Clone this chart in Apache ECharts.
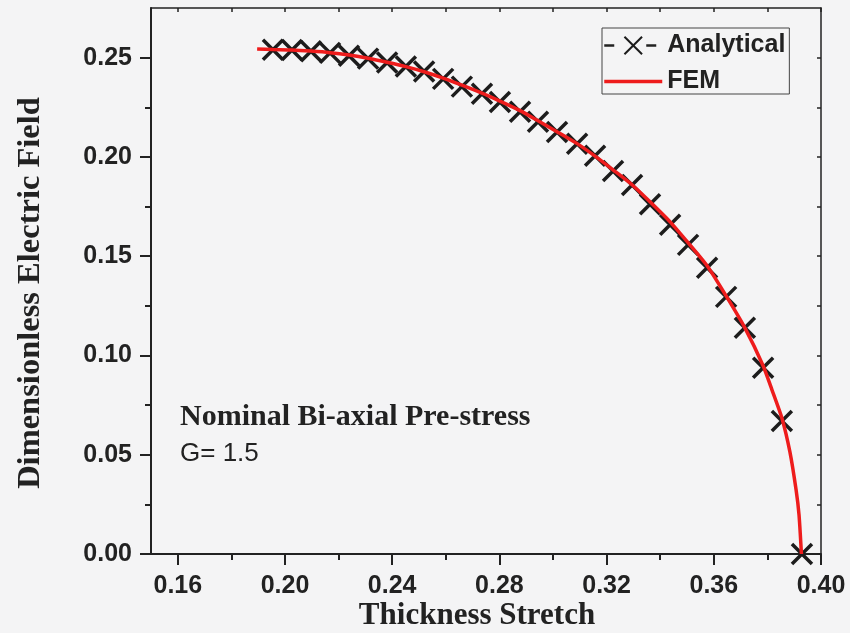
<!DOCTYPE html>
<html>
<head>
<meta charset="utf-8">
<title>Thickness Stretch vs Dimensionless Electric Field</title>
<script src="https://cdn.jsdelivr.net/npm/echarts@6/dist/echarts.min.js"></script>
<style>
  html, body { margin: 0; padding: 0; background: #f4f4f5; }
  #chart { width: 850px; height: 633px; }
</style>
</head>
<body>
<div id="chart"></div>
<script>
// Analytical solution: [thickness stretch, dimensionless electric field]
const analytical = [
  [0.1955, 0.2540], [0.2026, 0.2538], [0.2097, 0.2532], [0.2168, 0.2524],
  [0.2239, 0.2510], [0.2310, 0.2495], [0.2381, 0.2475], [0.2451, 0.2455],
  [0.2519, 0.2430], [0.2590, 0.2393], [0.2660, 0.2354], [0.2735, 0.2318],
  [0.2802, 0.2277], [0.2877, 0.2227], [0.2944, 0.2177], [0.3015, 0.2126],
  [0.3090, 0.2066], [0.3157, 0.2006], [0.3224, 0.1929], [0.3295, 0.1858],
  [0.3362, 0.1762], [0.3437, 0.1658], [0.3504, 0.1557], [0.3575, 0.1442],
  [0.3646, 0.1295], [0.3716, 0.1139], [0.3784, 0.0938], [0.3854, 0.0670],
  [0.3929, 0.0000]
];

// Finite element result
const fem = [
  [0.1896, 0.2544], [0.1955, 0.2541], [0.2026, 0.2539], [0.2097, 0.2533],
  [0.2168, 0.2525], [0.2239, 0.2513], [0.2310, 0.2497], [0.2381, 0.2477],
  [0.2451, 0.2455], [0.2519, 0.2429], [0.2590, 0.2397], [0.2660, 0.2361],
  [0.2735, 0.2321], [0.2802, 0.2281], [0.2877, 0.2233], [0.2944, 0.2182],
  [0.3015, 0.2127], [0.3090, 0.2067], [0.3157, 0.2004], [0.3224, 0.1935],
  [0.3295, 0.1860], [0.3362, 0.1774], [0.3437, 0.1673], [0.3504, 0.1568],
  [0.3575, 0.1452], [0.3646, 0.1300], [0.3716, 0.1139], [0.3784, 0.0948],
  [0.3817, 0.0827], [0.3854, 0.0685], [0.3884, 0.0514], [0.3907, 0.0323],
  [0.3918, 0.0197], [0.3927, 0.0000]
];

const xMajorTicks = [0.16, 0.20, 0.24, 0.28, 0.32, 0.36, 0.40];
const xMinorTicks = [0.18, 0.22, 0.26, 0.30, 0.34, 0.38];
const yMajorTicks = [0.00, 0.05, 0.10, 0.15, 0.20, 0.25];
const yMinorTicks = [0.025, 0.075, 0.125, 0.175, 0.225];

const X_RANGE = [0.15, 0.40];
const Y_RANGE = [0, 0.275];

const SANS = 'Liberation Sans, Arial, sans-serif';
const SERIF = 'Liberation Serif, Times New Roman, serif';
const INK = '#222';
const RED = '#ee1c1c';
const CROSS = 'path://M0,0L10,10M10,0L0,10';
// plain bar used as the FEM legend key
const BAR = 'path://M0,0L100,0L100,6L0,6Z';

const allX = xMajorTicks.concat(xMinorTicks).sort((a, b) => a - b);
const allY = yMajorTicks.concat(yMinorTicks).sort((a, b) => a - b);

const chart = echarts.init(document.getElementById('chart'), null, { renderer: 'canvas' });

chart.setOption({
  backgroundColor: '#f4f4f5',
  animation: false,
  grid: { left: 151, right: 29, top: 8, bottom: 79, containLabel: false, outerBoundsMode: 'none' },
  legend: {
    left: 602,
    top: 28,
    orient: 'vertical',
    backgroundColor: 'transparent',
    borderColor: '#444',
    borderWidth: 1,
    borderRadius: 0,
    padding: [5, 4, 0, 1],
    itemWidth: 58,
    itemHeight: 22,
    itemGap: 11,
    itemTextGap: 7,
    textStyle: { fontFamily: SANS, fontSize: 25, fontWeight: 'bold', color: INK },
    data: [
      { name: 'Analytical', lineStyle: { opacity: 1, width: 2.5, color: INK, type: [10, 32] } },
      { name: 'FEM', icon: BAR, itemStyle: { color: RED } }
    ]
  },
  xAxis: [
    {
      type: 'value', min: X_RANGE[0], max: X_RANGE[1], position: 'bottom',
      name: 'Thickness Stretch', nameLocation: 'middle', nameGap: 46, nameMoveOverlap: false,
      nameTextStyle: { fontFamily: SERIF, fontSize: 31, fontWeight: 'bold', color: INK, padding: [0, 18, 0, 0] },
      axisLine: { show: true, onZero: false, lineStyle: { color: INK, width: 2 } },
      axisTick: { show: true, inside: false, length: 11, customValues: xMajorTicks, lineStyle: { color: INK, width: 2 } },
      axisLabel: {
        customValues: xMajorTicks, margin: 20,
        fontFamily: SANS, fontSize: 25, fontWeight: 'bold', color: INK,
        formatter: v => v.toFixed(2)
      },
      splitLine: { show: false }
    },
    {
      type: 'value', min: X_RANGE[0], max: X_RANGE[1], position: 'bottom',
      axisLine: { show: false, onZero: false },
      axisTick: { show: true, inside: false, length: 6, customValues: xMinorTicks, lineStyle: { color: INK, width: 2 } },
      axisLabel: { show: false },
      splitLine: { show: false }
    },
    {
      type: 'value', min: X_RANGE[0], max: X_RANGE[1], position: 'top',
      axisLine: { show: true, onZero: false, lineStyle: { color: INK, width: 1.5 } },
      axisTick: { show: true, inside: true, length: 4, customValues: allX, lineStyle: { color: INK, width: 1.5 } },
      axisLabel: { show: false },
      splitLine: { show: false }
    }
  ],
  yAxis: [
    {
      type: 'value', min: Y_RANGE[0], max: Y_RANGE[1], position: 'left',
      name: 'Dimensionless Electric Field', nameLocation: 'middle', nameGap: 104,
      nameTextStyle: { fontFamily: SERIF, fontSize: 32.5, fontWeight: 'bold', color: INK, padding: [0, 24, 0, 0] },
      axisLine: { show: true, onZero: false, lineStyle: { color: INK, width: 2 } },
      axisTick: { show: true, inside: false, length: 11, customValues: yMajorTicks, lineStyle: { color: INK, width: 2 } },
      axisLabel: {
        customValues: yMajorTicks, margin: 19,
        fontFamily: SANS, fontSize: 25, fontWeight: 'bold', color: INK,
        formatter: v => v.toFixed(2)
      },
      splitLine: { show: false }
    },
    {
      type: 'value', min: Y_RANGE[0], max: Y_RANGE[1], position: 'left',
      axisLine: { show: false, onZero: false },
      axisTick: { show: true, inside: false, length: 6, customValues: yMinorTicks, lineStyle: { color: INK, width: 2 } },
      axisLabel: { show: false },
      splitLine: { show: false }
    },
    {
      type: 'value', min: Y_RANGE[0], max: Y_RANGE[1], position: 'right',
      axisLine: { show: true, onZero: false, lineStyle: { color: INK, width: 1.5 } },
      axisTick: { show: true, inside: true, length: 4, customValues: allY, lineStyle: { color: INK, width: 1.5 } },
      axisLabel: { show: false },
      splitLine: { show: false }
    }
  ],
  series: [
    {
      name: 'Analytical',
      type: 'line',
      xAxisIndex: 0, yAxisIndex: 0,
      data: analytical,
      showSymbol: true,
      showAllSymbol: true,
      symbol: CROSS,
      symbolSize: 20,
      itemStyle: { color: 'rgba(0,0,0,0)', borderColor: '#1c1c1c', borderWidth: 3.5 },
      lineStyle: { opacity: 0, color: INK },
      clip: false,
      z: 2
    },
    {
      name: 'FEM',
      type: 'line',
      xAxisIndex: 0, yAxisIndex: 0,
      data: fem,
      showSymbol: false,
      smooth: 0.2,
      itemStyle: { color: RED },
      lineStyle: { color: RED, width: 3.5 },
      z: 3
    }
  ],
  graphic: [
    {
      type: 'text', left: 180, top: 402,
      style: { text: 'Nominal Bi-axial Pre-stress', fontFamily: SERIF, fontSize: 30, fontWeight: 'bold', fill: INK }
    },
    {
      type: 'text', left: 180, top: 441,
      style: { text: 'G= 1.5', fontFamily: SANS, fontSize: 26, fill: INK }
    }
  ]
});
</script>
</body>
</html>
